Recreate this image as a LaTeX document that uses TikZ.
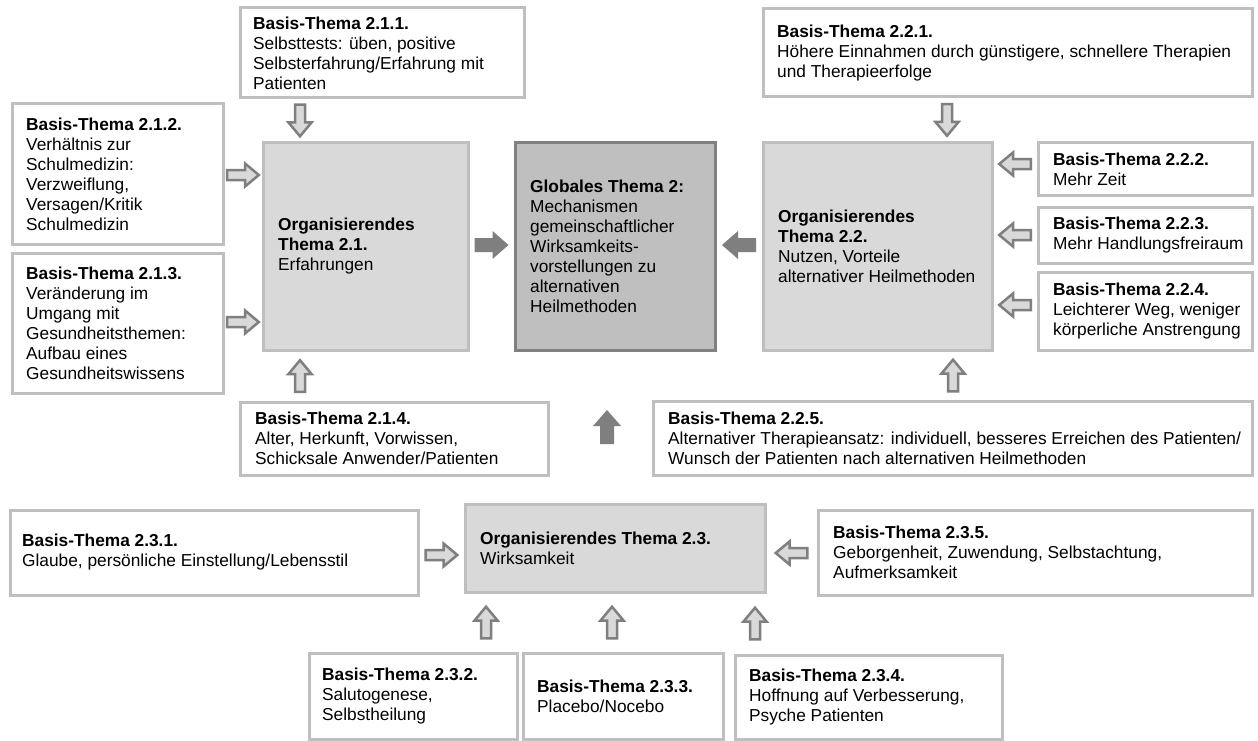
\documentclass[tikz,border=0pt]{standalone}
\usepackage{fontspec}
\setmainfont{Liberation Sans}
\usetikzlibrary{calc}

\definecolor{boxline}{HTML}{BFBFBF}
\definecolor{orgfill}{HTML}{D9D9D9}
\definecolor{globfill}{HTML}{BFBFBF}
\definecolor{globline}{HTML}{808080}
\definecolor{arrline}{HTML}{7F7F7F}
\definecolor{arrfill}{HTML}{D9D9D9}

\tikzset{
  basebox/.style={rectangle, draw=boxline, line width=3pt, inner sep=0pt, outer sep=0pt},
  basis/.style={basebox, fill=white},
  org/.style={basebox, fill=orgfill},
  glob/.style={basebox, fill=globfill, draw=globline},
  boxtext/.style={anchor=west, align=left, inner sep=0pt, font=\fontsize{17.3}{20}\selectfont},
  pics/hollowarrow/.style={code={
    \draw[draw=arrline, fill=arrfill, line width=2.5pt, line join=miter]
      (-15.8,-5) -- (2,-5) -- (2,-11.5) -- (15.8,0) -- (2,11.5) -- (2,5) -- (-15.8,5) -- cycle;}},
  pics/solidarrow/.style={code={
    \fill[arrline] (-17,-7) -- (1,-7) -- (1,-14) -- (17,0) -- (1,14) -- (1,7) -- (-17,7) -- cycle;}},
}

% theme box: name, style, x1, y1, x2, y2 (y downwards), left padding, text
\newcommand\themebox[8]{%
  \node[#2, anchor=north west, minimum width={#5pt-#3pt}, minimum height={#6pt-#4pt}] (#1) at (#3,-#4) {};
  \node[boxtext] (#1-text) at ([xshift=#7pt]#1.west) {#8};
}
% block arrow in the vertical gap between two nodes: pic, upper node, lower node, x, rotation
\newcommand\vconn[5]{%
  \path let \p1=(#2.south), \p2=(#3.north) in (#4,{(\y1+\y2)/2}) pic[rotate=#5]{#1};
}
% block arrow in the horizontal gap between two nodes: pic, left node, right node, y (downwards), rotation
\newcommand\hconn[5]{%
  \path let \p1=(#2.east), \p2=(#3.west) in ({(\x1+\x2)/2},-#4) pic[rotate=#5]{#1};
}

\begin{document}
\begin{tikzpicture}[x=1pt, y=1pt]
\fill[white] (0,0) rectangle (1258,-741);
\useasboundingbox (0,0) rectangle (1258,-741);

% central themes
\themebox{o21}{org}{263}{143}{468}{350}{15}{\textbf{Organisierendes}\\\textbf{Thema 2.1.}\\Erfahrungen}
\themebox{glob}{glob}{515}{143}{715}{350}{15}{\textbf{Globales Thema 2:}\\Mechanismen\\gemeinschaftlicher\\Wirksamkeits-\\vorstellungen zu\\alternativen\\Heilmethoden}
\themebox{o22}{org}{763}{143}{992}{350}{15}{\textbf{Organisierendes}\\\textbf{Thema 2.2.}\\Nutzen, Vorteile\\alternativer Heilmethoden}
\themebox{o23}{org}{465}{504}{765}{592}{15}{\textbf{Organisierendes Thema 2.3.}\\Wirksamkeit}

% basic themes of 2.1
\themebox{b211}{basis}{240}{8}{524}{98}{13}{\textbf{Basis-Thema 2.1.1.}\\Selbsttests: üben, positive\\Selbsterfahrung/Erfahrung mit\\Patienten}
\themebox{b212}{basis}{12}{104}{223}{244}{14}{\textbf{Basis-Thema 2.1.2.}\\Verhältnis zur\\Schulmedizin:\\Verzweiflung,\\Versagen/Kritik\\Schulmedizin}
\themebox{b213}{basis}{12}{253}{223}{393}{14}{\textbf{Basis-Thema 2.1.3.}\\Veränderung im\\Umgang mit\\Gesundheitsthemen:\\Aufbau eines\\Gesundheitswissens}
\themebox{b214}{basis}{240}{402}{548}{475}{15}{\textbf{Basis-Thema 2.1.4.}\\Alter, Herkunft, Vorwissen,\\Schicksale Anwender/Patienten}

% basic themes of 2.2
\themebox{b221}{basis}{763}{9}{1252}{97}{14}{\textbf{Basis-Thema 2.2.1.}\\Höhere Einnahmen durch günstigere, schnellere Therapien\\und Therapieerfolge}
\themebox{b222}{basis}{1038}{143}{1252}{195}{15}{\textbf{Basis-Thema 2.2.2.}\\Mehr Zeit}
\themebox{b223}{basis}{1038}{207}{1252}{263}{15}{\textbf{Basis-Thema 2.2.3.}\\Mehr Handlungsfreiraum}
\themebox{b224}{basis}{1038}{272}{1252}{350}{15}{\textbf{Basis-Thema 2.2.4.}\\Leichterer Weg, weniger\\körperliche Anstrengung}
\themebox{b225}{basis}{653}{401}{1252}{475}{15}{\textbf{Basis-Thema 2.2.5.}\\Alternativer Therapieansatz: individuell, besseres Erreichen des Patienten/\\Wunsch der Patienten nach alternativen Heilmethoden}

% basic themes of 2.3
\themebox{b231}{basis}{10}{510}{418}{595}{12}{\textbf{Basis-Thema 2.3.1.}\\Glaube, persönliche Einstellung/Lebensstil}
\themebox{b232}{basis}{309}{653}{517}{739}{13}{\textbf{Basis-Thema 2.3.2.}\\Salutogenese,\\Selbstheilung}
\themebox{b233}{basis}{523}{653}{723}{739}{14}{\textbf{Basis-Thema 2.3.3.}\\Placebo/Nocebo}
\themebox{b234}{basis}{735}{655}{1002}{739}{14}{\textbf{Basis-Thema 2.3.4.}\\Hoffnung auf Verbesserung,\\Psyche Patienten}
\themebox{b235}{basis}{818}{510}{1252}{595}{15}{\textbf{Basis-Thema 2.3.5.}\\Geborgenheit, Zuwendung, Selbstachtung,\\Aufmerksamkeit}

% connectors into theme 2.1
\vconn{hollowarrow}{b211}{o21}{300}{-90}
\hconn{hollowarrow}{b212}{o21}{175}{0}
\hconn{hollowarrow}{b213}{o21}{322}{0}
\vconn{hollowarrow}{o21}{b214}{300}{90}

% connectors into theme 2.2
\vconn{hollowarrow}{b221}{o22}{947}{-90}
\hconn{hollowarrow}{o22}{b222}{164}{180}
\hconn{hollowarrow}{o22}{b223}{235}{180}
\hconn{hollowarrow}{o22}{b224}{305}{180}
\vconn{hollowarrow}{o22}{b225}{953}{90}

% connectors into theme 2.3
\hconn{hollowarrow}{b231}{o23}{555}{0}
\hconn{hollowarrow}{o23}{b235}{553}{180}
\vconn{hollowarrow}{o23}{b232}{486}{90}
\vconn{hollowarrow}{o23}{b233}{612}{90}
\vconn{hollowarrow}{o23}{b234}{755}{90}

% organising themes towards the global theme
\hconn{solidarrow}{o21}{glob}{245}{0}
\hconn{solidarrow}{glob}{o22}{245}{180}
\vconn{solidarrow}{glob}{o23}{607}{90}
\end{tikzpicture}
\end{document}
